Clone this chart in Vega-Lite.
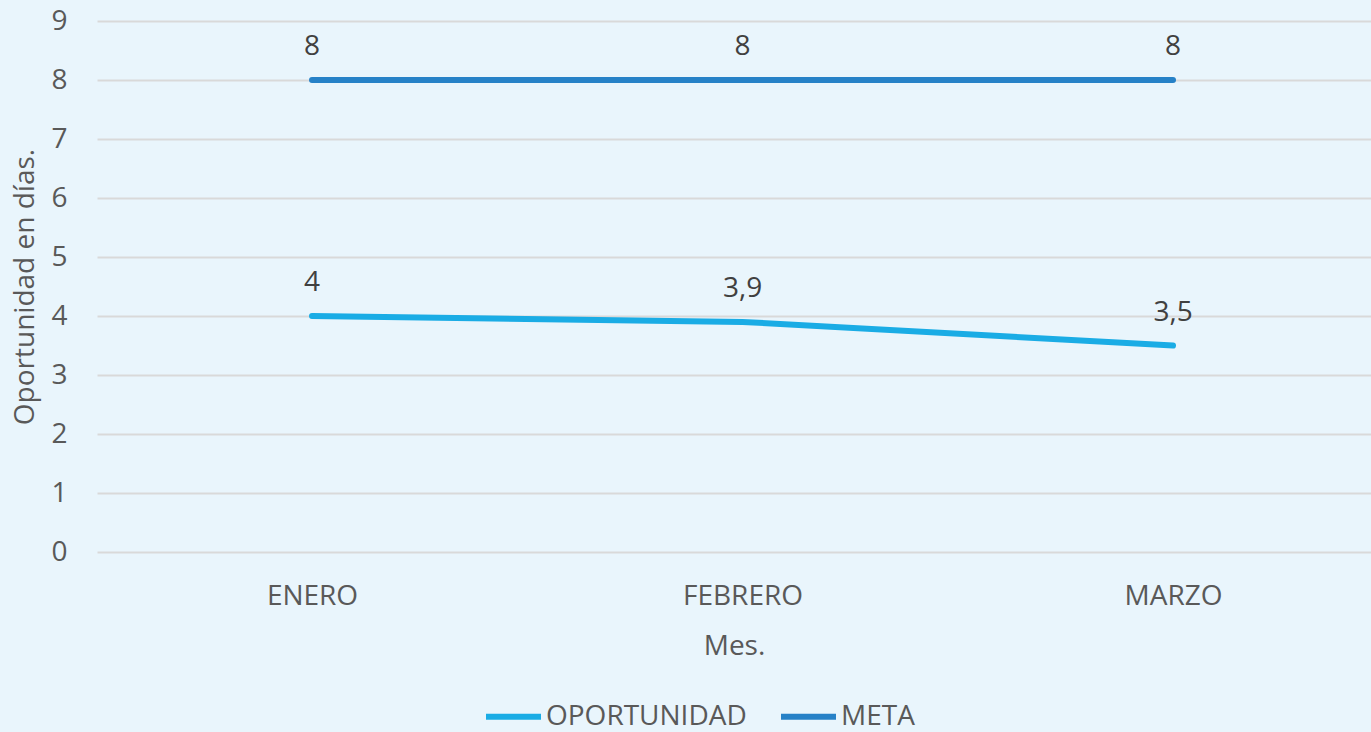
{
  "$schema": "https://vega.github.io/schema/vega-lite/v6.json",
  "autosize": "none",
  "width": 1274,
  "height": 531,
  "padding": {"left": 97, "top": 21, "right": 0, "bottom": 180},
  "background": "#e9f5fc",
  "config": {
    "locale": {"number": {"decimal": ",", "thousands": ".", "grouping": [3], "currency": ["", " €"]}},
    "view": {"stroke": null},
    "font": "Open Sans"
  },
  "data": {
    "values": [
      {"mes": "ENERO", "serie": "OPORTUNIDAD", "valor": 4},
      {"mes": "FEBRERO", "serie": "OPORTUNIDAD", "valor": 3.9},
      {"mes": "MARZO", "serie": "OPORTUNIDAD", "valor": 3.5},
      {"mes": "ENERO", "serie": "META", "valor": 8},
      {"mes": "FEBRERO", "serie": "META", "valor": 8},
      {"mes": "MARZO", "serie": "META", "valor": 8}
    ]
  },
  "encoding": {
    "x": {
      "field": "mes", "type": "ordinal", "sort": ["ENERO", "FEBRERO", "MARZO"],
      "scale": {"type": "point", "padding": 0.4797, "align": 0.5206},
      "axis": {
        "title": "Mes.", "titleFontSize": 28, "titleFontWeight": "normal", "titleColor": "#595959", "titlePadding": 22,
        "labelFontSize": 28, "labelColor": "#595959", "labelAngle": 0, "labelPadding": 30,
        "domain": false, "ticks": false, "grid": false
      }
    },
    "y": {
      "field": "valor", "type": "quantitative",
      "scale": {"domain": [0, 9], "nice": false},
      "axis": {
        "title": "Oportunidad en días.", "titleFontSize": 28, "titleFontWeight": "normal", "titleColor": "#595959", "titlePadding": 11,
        "labelFontSize": 28, "labelColor": "#595959", "labelPadding": 30,
        "values": [0,1,2,3,4,5,6,7,8,9],
        "domain": false, "ticks": false, "grid": true, "gridColor": "#d9d9d9", "gridWidth": 2
      }
    },
    "color": {
      "field": "serie", "type": "nominal",
      "scale": {"domain": ["OPORTUNIDAD", "META"], "range": ["#1aace5", "#2681c7"]},
      "legend": {
        "title": null, "orient": "none", "direction": "horizontal",
        "legendX": 386, "legendY": 665, "padding": 0,
        "symbolType": "stroke", "symbolSize": 3025, "symbolStrokeWidth": 6,
        "labelFontSize": 28, "labelColor": "#595959", "labelOffset": 2, "labelLimit": 500, "columnPadding": 22
      }
    }
  },
  "layer": [
    {"mark": {"type": "line", "strokeWidth": 6, "strokeCap": "round"}},
    {
      "mark": {"type": "text", "dy": -33, "fontSize": 28},
      "encoding": {"text": {"field": "valor", "type": "quantitative", "format": "~g"}, "color": {"value": "#404040"}}
    }
  ]
}
